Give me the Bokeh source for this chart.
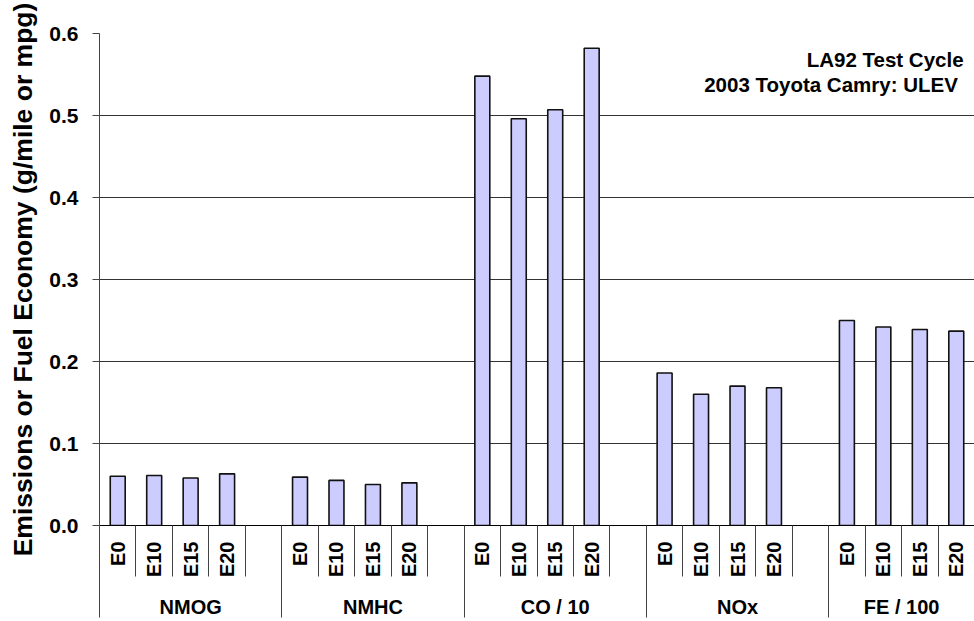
from bokeh.plotting import figure
from bokeh.models import (Range1d, FixedTicker, NumeralTickFormatter, LinearAxis,
                          ColumnDataSource, Label)
from bokeh.embed import file_html
from bokeh.resources import INLINE

# ---- data ----
groups = ["NMOG", "NMHC", "CO / 10", "NOx", "FE / 100"]
blends = ["E0", "E10", "E15", "E20"]
nmog = [0.060, 0.061, 0.058, 0.063]
nmhc = [0.059, 0.055, 0.050, 0.052]
co_10 = [0.548, 0.496, 0.507, 0.582]
nox = [0.186, 0.160, 0.170, 0.168]
fe_100 = [0.250, 0.242, 0.239, 0.237]
y_ticks = [0.0, 0.1, 0.2, 0.3, 0.4, 0.5, 0.6]
notes = ["LA92 Test Cycle", "2003 Toyota Camry:  ULEV"]

series = [nmog, nmhc, co_10, nox, fe_100]
slots_per_group = len(blends) + 1            # four blends + one empty slot
n_slots = len(groups) * slots_per_group - 1  # no empty slot after the last group

FONT = "Liberation Sans"

# build bar table and category positions
xs, tops = [], []
sub_overrides = {}
for g, vals in enumerate(series):
    for b, v in enumerate(vals):
        slot = g * slots_per_group + b
        xs.append(slot + 0.5)
        tops.append(v)
        sub_overrides[slot + 0.5] = blends[b]

grp_x, grp_overrides = [], {}
for g in range(len(groups)):
    start = g * slots_per_group
    end = min(start + slots_per_group, n_slots)
    c = (start + end) / 2
    grp_x.append(c)
    grp_overrides[c] = groups[g]

group_bounds = [g * slots_per_group for g in range(len(groups))]
all_bounds = list(range(0, n_slots))

p = figure(width=974, height=621, output_backend="svg", toolbar_location=None,
           x_range=Range1d(0, n_slots), y_range=Range1d(0, 0.6),
           x_axis_location=None,
           min_border_left=99, min_border_right=0, min_border_top=33,
           min_border_bottom=96)
p.outline_line_color = None
p.background_fill_color = "white"
p.border_fill_color = "white"

src = ColumnDataSource(dict(x=xs, top=tops))
p.vbar(x="x", top="top", bottom=0, width=0.41, source=src,
       fill_color="#CCCCFF", line_color="#111111", line_width=1.6)

# y axis
ya = p.yaxis[0]
ya.ticker = FixedTicker(ticks=y_ticks, minor_ticks=[])
ya.formatter = NumeralTickFormatter(format="0.0")
ya.major_tick_out = 7
ya.major_tick_in = 0
ya.minor_tick_out = 0
ya.minor_tick_in = 0
ya.axis_line_color = "#444444"
ya.major_tick_line_color = "#444444"
ya.major_label_text_font = FONT
ya.major_label_text_font_style = "bold"
ya.major_label_text_font_size = "21px"
ya.major_label_text_color = "black"
ya.major_label_standoff = 14
ya.axis_label = "Emissions or Fuel Economy (g/mile or mpg)"
ya.axis_label_text_font = FONT
ya.axis_label_text_font_style = "bold"
ya.axis_label_text_font_size = "26.5px"
ya.axis_label_text_color = "black"
ya.axis_label_standoff = 8

p.ygrid.ticker = FixedTicker(ticks=y_ticks)
p.ygrid.grid_line_color = "#333333"
p.ygrid.grid_line_width = 1
p.xgrid.grid_line_color = None

# x axis 1: blend labels, slot separators as minor ticks
xa = LinearAxis(ticker=FixedTicker(ticks=xs, minor_ticks=all_bounds),
                major_label_overrides=sub_overrides,
                major_label_orientation=1.5708)
xa.major_tick_out = 0
xa.major_tick_in = 0
xa.minor_tick_out = 51
xa.minor_tick_in = 0
xa.minor_tick_line_color = "#444444"
xa.axis_line_color = "black"
xa.axis_line_width = 1
xa.major_label_text_font = FONT
xa.major_label_text_font_style = "bold"
xa.major_label_text_font_size = "20px"
xa.major_label_text_color = "black"
xa.major_label_standoff = 16 - 51
p.add_layout(xa, "below")

# x axis 2: group labels, group separators as minor ticks
xg = LinearAxis(ticker=FixedTicker(ticks=grp_x, minor_ticks=group_bounds),
                major_label_overrides=grp_overrides)
xg.major_tick_out = 0
xg.major_tick_in = 0
xg.minor_tick_out = 37
xg.minor_tick_in = 12
xg.minor_tick_line_color = "#444444"
xg.axis_line_color = None
xg.major_label_text_font = FONT
xg.major_label_text_font_style = "bold"
xg.major_label_text_font_size = "20px"
xg.major_label_text_color = "black"
xg.major_label_standoff = 15 - 37
p.add_layout(xg, "below")

# note in the top right corner
for i, t in enumerate(notes):
    p.add_layout(Label(x=23.70, y=0.568 - i * 0.0305, text=t,
                       text_align="right", text_baseline="alphabetic",
                       text_font=FONT, text_font_style="bold",
                       text_font_size="20.5px", text_color="black"))

open("out.html", "w").write(file_html(p, INLINE))
